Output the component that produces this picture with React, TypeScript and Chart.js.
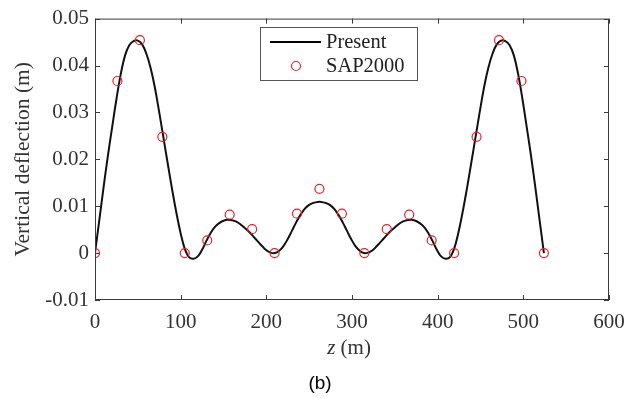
import React, { useEffect, useRef } from "react";
import { Chart, registerables } from "chart.js";

Chart.register(...registerables);

// "Present" curve
const presentZ = [
  0, 5, 10, 15, 20, 25, 30, 35, 40, 45, 50, 55, 60, 65, 70, 75, 80, 85, 90, 95,
  100, 105, 110, 115, 120, 125, 130, 135, 140, 145, 150, 155, 160, 165, 170, 175,
  180, 185, 190, 195, 200, 205, 210, 215, 220, 225, 230, 235, 240, 245, 250, 255,
  260, 264, 269, 274, 279, 284, 289, 294, 299, 304, 309, 314, 319, 324, 329, 334,
  339, 344, 349, 354, 359, 364, 369, 374, 379, 384, 389, 394, 399, 404, 409, 414,
  419, 424, 429, 434, 439, 444, 449, 454, 459, 464, 469, 474, 479, 484, 489, 494,
  499, 504, 509, 514, 519, 524,
];
const presentV = [
  0, 0.007, 0.014, 0.0207, 0.0268, 0.0328, 0.0381, 0.0421, 0.0443, 0.0452, 0.0453,
  0.0445, 0.0425, 0.0394, 0.0352, 0.03, 0.0245, 0.019, 0.0136, 0.0086, 0.0042,
  0.0008, -0.0009, -0.0012, -0.0007, 0.0007, 0.0026, 0.0043, 0.0056, 0.0064, 0.0069,
  0.0071, 0.007, 0.0067, 0.0061, 0.0053, 0.0045, 0.0035, 0.0025, 0.0015, 0.0006,
  0.0001, 0.0, 0.0005, 0.0015, 0.003, 0.0048, 0.0066, 0.0082, 0.0095, 0.0103, 0.0107,
  0.0109, 0.0109, 0.0107, 0.0103, 0.0095, 0.0082, 0.0066, 0.0048, 0.003, 0.0015,
  0.0005, 0.0, 0.0001, 0.0006, 0.0015, 0.0025, 0.0035, 0.0045, 0.0053, 0.0061, 0.0067,
  0.007, 0.0071, 0.0069, 0.0064, 0.0056, 0.0043, 0.0026, 0.0007, -0.0007, -0.0012,
  -0.0009, 0.0008, 0.0042, 0.0086, 0.0136, 0.019, 0.0245, 0.03, 0.0352, 0.0394,
  0.0425, 0.0445, 0.0453, 0.0452, 0.0443, 0.0421, 0.0381, 0.0328, 0.0268, 0.0207,
  0.014, 0.007, 0,
];

// SAP2000 points
const sapZ = [
  0, 26.2, 52.4, 78.6, 104.8, 131, 157.2, 183.4, 209.6, 235.8, 262, 288.2, 314.4,
  340.6, 366.8, 393, 419.2, 445.4, 471.6, 497.8, 524,
];
const sapV = [
  0, 0.0367, 0.0454, 0.0248, 0, 0.0027, 0.0082, 0.0051, 0, 0.0084, 0.0137, 0.0084, 0,
  0.0051, 0.0082, 0.0027, 0, 0.0248, 0.0454, 0.0367, 0,
];

const xTicks = [0, 100, 200, 300, 400, 500, 600];
const yTicks = [-0.01, 0, 0.01, 0.02, 0.03, 0.04, 0.05];

const seriesNames = ["Present", "SAP2000"];
const yTitle = "Vertical deflection (m)";
const xTitleVar = "z";
const xTitleUnit = " (m)";
const caption = "(b)";

const SERIF = "'Liberation Serif', 'Times New Roman', serif";
const RED = "#e2232a";

const framePlugin = {
  id: "frame",
  afterDraw(chart: any) {
    const { ctx, chartArea } = chart;
    const { left, right, top, bottom } = chartArea;
    const xs = chart.scales.x;
    const ys = chart.scales.y;
    ctx.save();
    ctx.strokeStyle = "#3a3a3a";
    ctx.lineWidth = 1;
    ctx.strokeRect(left + 0.5, top + 0.5, right - left - 1, bottom - top - 1);
    const tl = 5;
    ctx.beginPath();
    xTicks.forEach((t) => {
      const px = Math.round(xs.getPixelForValue(t)) + 0.5;
      ctx.moveTo(px, bottom);
      ctx.lineTo(px, bottom - tl);
      ctx.moveTo(px, top);
      ctx.lineTo(px, top + tl);
    });
    yTicks.forEach((t) => {
      const py = Math.round(ys.getPixelForValue(t)) + 0.5;
      ctx.moveTo(left, py);
      ctx.lineTo(left + tl, py);
      ctx.moveTo(right, py);
      ctx.lineTo(right - tl, py);
    });
    ctx.stroke();

    // y axis title
    ctx.fillStyle = "#333";
    ctx.font = `21.5px ${SERIF}`;
    ctx.textAlign = "center";
    ctx.textBaseline = "middle";
    ctx.save();
    ctx.translate(23, (top + bottom) / 2);
    ctx.rotate(-Math.PI / 2);
    ctx.fillText(yTitle, 0, 0);
    ctx.restore();

    // x axis title
    const cx = (left + right) / 2 - 3;
    ctx.font = `italic 21px ${SERIF}`;
    const w1 = ctx.measureText(xTitleVar).width;
    ctx.font = `21px ${SERIF}`;
    const w2 = ctx.measureText(xTitleUnit).width;
    const sx = cx - (w1 + w2) / 2;
    ctx.textAlign = "left";
    ctx.font = `italic 21px ${SERIF}`;
    ctx.fillText(xTitleVar, sx, 348);
    ctx.font = `21px ${SERIF}`;
    ctx.fillText(xTitleUnit, sx + w1, 348);

    // caption
    ctx.fillStyle = "#000";
    ctx.font = `19px 'Liberation Sans', Arial, sans-serif`;
    ctx.textAlign = "center";
    ctx.fillText(caption, 320, 384);

    // legend
    const lx = 260, ly = 27, lw = 157, lh = 53;
    ctx.fillStyle = "#fff";
    ctx.fillRect(lx, ly, lw, lh);
    ctx.strokeStyle = "#555";
    ctx.lineWidth = 1;
    ctx.strokeRect(lx + 0.5, ly + 0.5, lw, lh);
    ctx.strokeStyle = "#000";
    ctx.lineWidth = 2;
    ctx.beginPath();
    ctx.moveTo(270, 42);
    ctx.lineTo(321, 42);
    ctx.stroke();
    ctx.strokeStyle = RED;
    ctx.lineWidth = 1.2;
    ctx.beginPath();
    ctx.arc(296, 66, 4.5, 0, Math.PI * 2);
    ctx.stroke();
    ctx.fillStyle = "#222";
    ctx.font = `20.5px ${SERIF}`;
    ctx.textAlign = "left";
    ctx.fillText(seriesNames[0], 326, 43);
    ctx.fillText(seriesNames[1], 326, 67);
    ctx.restore();
  },
};

export default function App() {
  const ref = useRef<HTMLCanvasElement>(null);
  useEffect(() => {
    if (!ref.current) return;
    const chart = new Chart(ref.current, {
      type: "line",
      data: {
        datasets: [
          {
            label: seriesNames[1],
            data: sapZ.map((z, i) => ({ x: z, y: sapV[i] })),
            showLine: false,
            pointStyle: "circle",
            pointRadius: 4.5,
            pointBorderWidth: 1.2,
            pointBorderColor: RED,
            pointBackgroundColor: "rgba(0,0,0,0)",
            order: 0,
          },
          {
            label: seriesNames[0],
            data: presentZ.map((z, i) => ({ x: z, y: presentV[i] })),
            borderColor: "#111",
            borderWidth: 2,
            pointRadius: 0,
            tension: 0.4,
            order: 1,
          },
        ],
      },
      options: {
        animation: false,
        responsive: false,
        devicePixelRatio: 1,
        layout: { padding: { left: 0, right: 31, top: 12, bottom: 0 } },
        plugins: { legend: { display: false }, tooltip: { enabled: false } },
        scales: {
          x: {
            type: "linear",
            min: 0,
            max: 600,
            afterBuildTicks: (s: any) => {
              s.ticks = xTicks.map((v) => ({ value: v }));
            },
            afterFit: (s: any) => {
              s.height = 98;
            },
            grid: { display: false, drawTicks: false },
            border: { display: false },
            ticks: {
              padding: 10,
              color: "#333",
              font: { family: SERIF, size: 21 },
              callback: (v: any) => String(v),
            },
          },
          y: {
            type: "linear",
            min: -0.01,
            max: 0.05,
            afterBuildTicks: (s: any) => {
              s.ticks = yTicks.map((v) => ({ value: v }));
            },
            afterFit: (s: any) => {
              s.width = 95;
            },
            grid: { display: false, drawTicks: false },
            border: { display: false },
            ticks: {
              padding: 6,
              color: "#333",
              font: { family: SERIF, size: 21 },
              callback: (v: any) => String(Number(Number(v).toFixed(2))),
            },
          },
        },
      },
      plugins: [framePlugin],
    });
    return () => chart.destroy();
  }, []);
  return (
    <div style={{ position: "fixed", left: 0, top: 0, width: 640, height: 398, background: "#fff" }}>
      <canvas ref={ref} width={640} height={398} />
    </div>
  );
}
